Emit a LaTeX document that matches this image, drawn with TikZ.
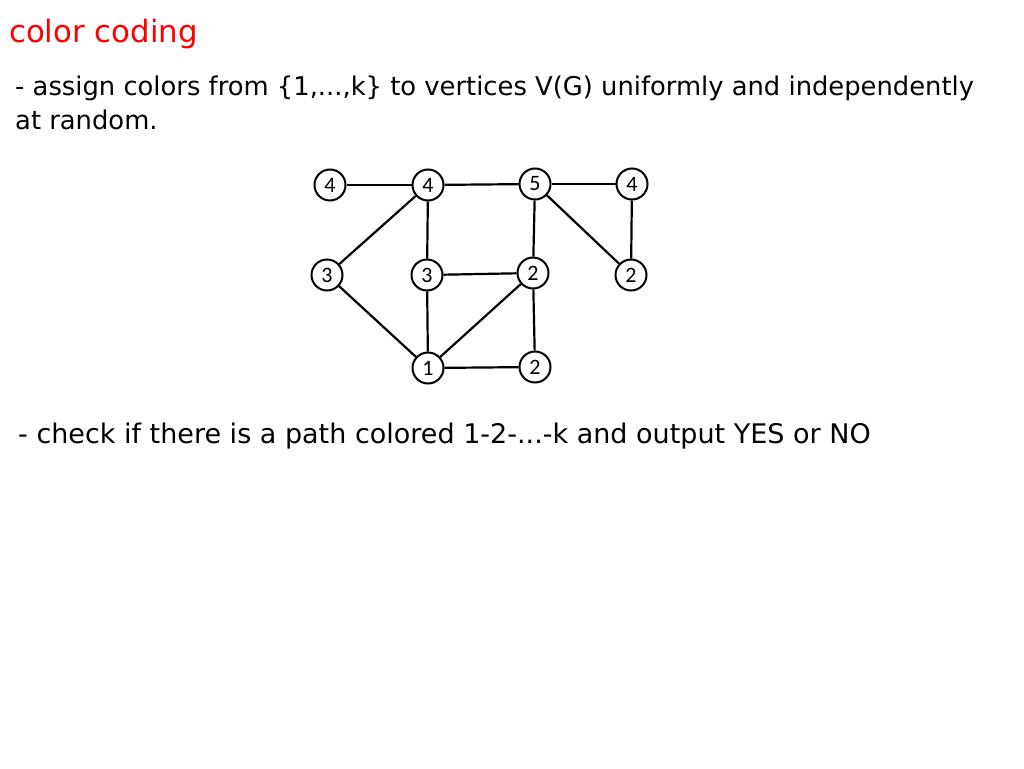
\documentclass[tikz,border=0pt]{standalone}
\usepackage{fontspec}
\setmainfont{DejaVu Sans}
\newfontfamily\labfont{Carlito}
\begin{document}
\begin{tikzpicture}[x=1pt,y=-1pt,
  vtx/.style={circle,draw=black,line width=2pt,minimum size=31pt,inner sep=0pt,fill=white,font=\labfont\fontsize{22}{22}\selectfont},
  edge/.style={line width=2.2pt,black},
  txt/.style={anchor=base west,inner sep=0pt,font=\fontsize{25.8}{28}\selectfont}]
\useasboundingbox (0,0) rectangle (1024,768);
\node[txt,text=red,font=\fontsize{30.8}{32}\selectfont] (title) at (9,43) {color coding};
\node[txt] (l1) at (15,95) {- assign colors from \{1,...,k\} to vertices V(G) uniformly and independently};
\node[txt] (l2) at (15,129) {at random.};
\node[txt,font=\fontsize{27}{28}\selectfont] (l3) at (18,443) {- check if there is a path colored 1-2-...-k and output YES or NO};
\node[vtx] (a) at (330,185) {4};
\node[vtx] (b) at (428,185) {4};
\node[vtx] (c) at (535,184) {5};
\node[vtx] (d) at (632,184) {4};
\node[vtx] (e) at (327,275) {3};
\node[vtx] (f) at (427,275) {3};
\node[vtx] (g) at (533,273) {2};
\node[vtx] (h) at (631,275) {2};
\node[vtx] (i) at (428,368) {1};
\node[vtx] (j) at (535,367) {2};
\draw[edge] (a)--(b);
\draw[edge] (b)--(c);
\draw[edge] (c)--(d);
\draw[edge] (b)--(e);
\draw[edge] (b)--(f);
\draw[edge] (c)--(g);
\draw[edge] (c)--(h);
\draw[edge] (d)--(h);
\draw[edge] (f)--(g);
\draw[edge] (e)--(i);
\draw[edge] (f)--(i);
\draw[edge] (g)--(i);
\draw[edge] (g)--(j);
\draw[edge] (i)--(j);
\end{tikzpicture}
\end{document}
